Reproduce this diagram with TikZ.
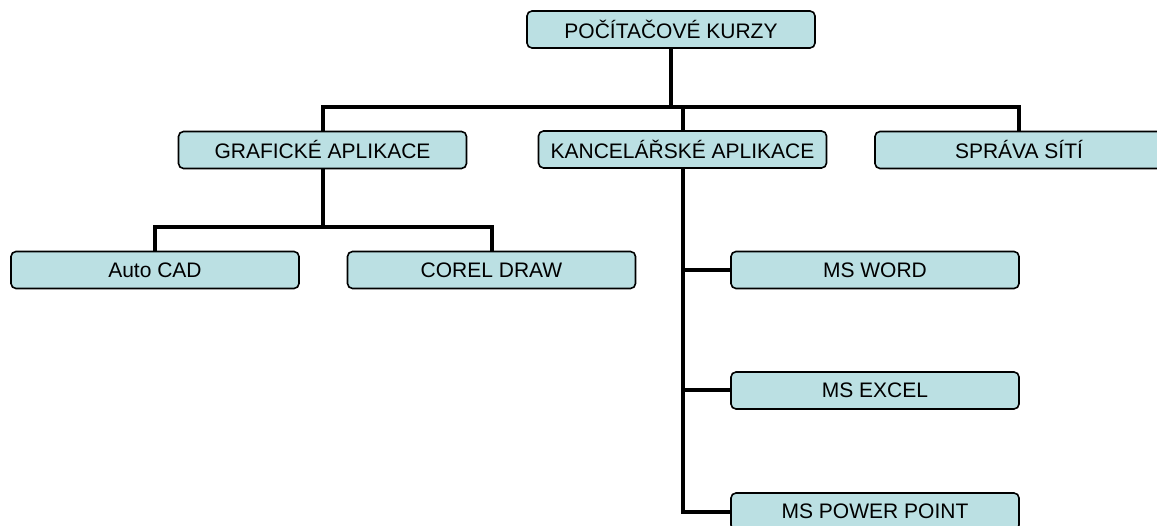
\documentclass[tikz,border=0pt]{standalone}
\usepackage{fontspec}
\setmainfont{Liberation Sans}
\definecolor{boxfill}{HTML}{BBE0E3}
\begin{document}
\begin{tikzpicture}[x=1pt,y=-1pt,
  box/.style={draw=black,line width=1.6pt,fill=boxfill,rounded corners=5pt,
    minimum width=288pt,minimum height=37pt,inner sep=0pt,
    font=\fontsize{21}{24}\selectfont},
  conn/.style={draw=black,line width=4pt}]
\useasboundingbox (0,0) rectangle (1157,526);
\clip (0,0) rectangle (1157,526);
\coordinate (bar) at (0,107);
\coordinate (gbar) at (0,227);
\node[box] (top) at (671,29.5) {POČÍTAČOVÉ KURZY};
\node[box] (graf) at (322.5,150) {GRAFICKÉ APLIKACE};
\node[box] (kanc) at (682.5,149.5) {KANCELÁŘSKÉ APLIKACE};
\node[box] (sprava) at (1019,150) {SPRÁVA SÍTÍ};
\node[box] (autocad) at (155,270) {Auto CAD};
\node[box] (corel) at (491.5,270) {COREL DRAW};
\node[box] (word) at (875,270) {MS WORD};
\node[box] (excel) at (875,390.5) {MS EXCEL};
\node[box] (pp) at (875,511.5) {MS POWER POINT};
\path[conn] (top.south) -- (top.south |- bar);
\path[conn] (graf.north) |- (sprava.north |- bar) -- (sprava.north);
\path[conn] (kanc.north |- bar) -- (kanc.north);
\path[conn] (graf.south) -- (graf.south |- gbar);
\path[conn] (autocad.north) |- (corel.north |- gbar) -- (corel.north);
\path[conn] (kanc.south) |- (pp.west);
\path[conn] (kanc.south |- word.west) -- (word.west);
\path[conn] (kanc.south |- excel.west) -- (excel.west);
\end{tikzpicture}
\end{document}
